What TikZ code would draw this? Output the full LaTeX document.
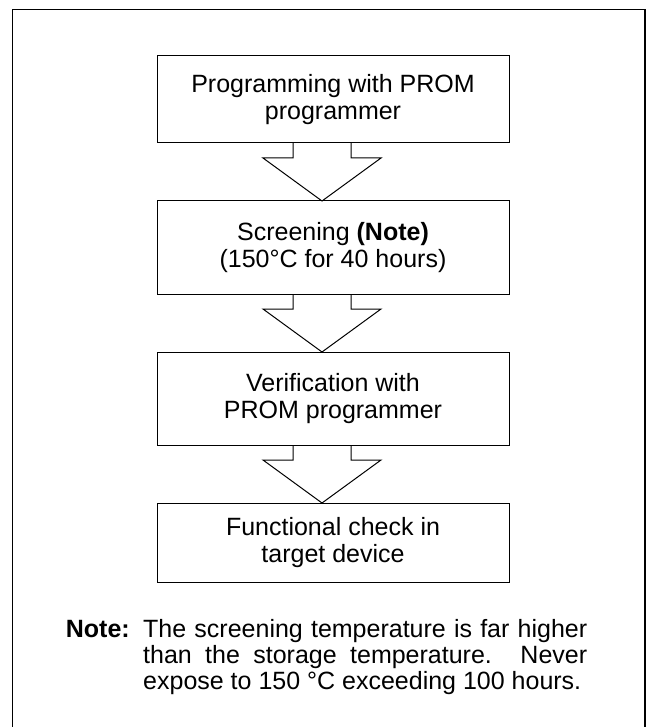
\documentclass[tikz,border=0pt]{standalone}
\usepackage{fontspec}
\setmainfont{Liberation Sans}
\usetikzlibrary{positioning,calc}
\hyphenpenalty=10000
\exhyphenpenalty=10000

\begin{document}
\begin{tikzpicture}[
    x=1pt, y=1pt,
    node distance=58pt,
    stepbox/.style={rectangle, draw=black, line width=1pt, outer sep=0pt, inner sep=0pt, minimum width=352pt, minimum height=#1, align=center, font=\fontsize{25}{27}\selectfont},
    hollow/.style={draw=black, line width=1pt, line join=miter},
    notefont/.style={inner sep=0pt, font=\fontsize{25}{26}\selectfont}
]
\useasboundingbox (0,0) rectangle (648,-727);
% outer frame, open at the bottom
\draw[line width=1.5pt] (12.7,-727) |- (645,-9.3) -- (645,-727);
\node[stepbox=87pt] (prog) at (333,-99.5) {Programming with PROM\\programmer};
\node[stepbox=93pt, below=of prog] (screen) {Screening \textbf{(Note)}\\(150°C for 40 hours)};
\node[stepbox=93pt, below=of screen] (verify) {Verification with\\PROM programmer};
\node[stepbox=79pt, below=of verify] (check) {Functional check in\\target device};
% hollow block arrows
\foreach \a/\b in {prog/screen, screen/verify, verify/check}
  \draw[hollow] ([xshift=-40pt]\a.south) -- ++(0,-15) -- ++(-30,0) -- ([xshift=-11pt]\b.north) -- ++(59,43) -- ++(-30,0) -- ([xshift=18pt]\a.south);
\node[notefont, text width=444pt, align=justify, anchor=base west] (notetext) at (143,-637) {The screening temperature is far higher than the storage temperature. Never \mbox{expose} to 150 °C exceeding 100 hours.};
\node[notefont, font=\bfseries\fontsize{25}{26}\selectfont, anchor=base east] (notelbl) at ([xshift=-13pt]notetext.base west) {Note:};
\end{tikzpicture}
\end{document}
